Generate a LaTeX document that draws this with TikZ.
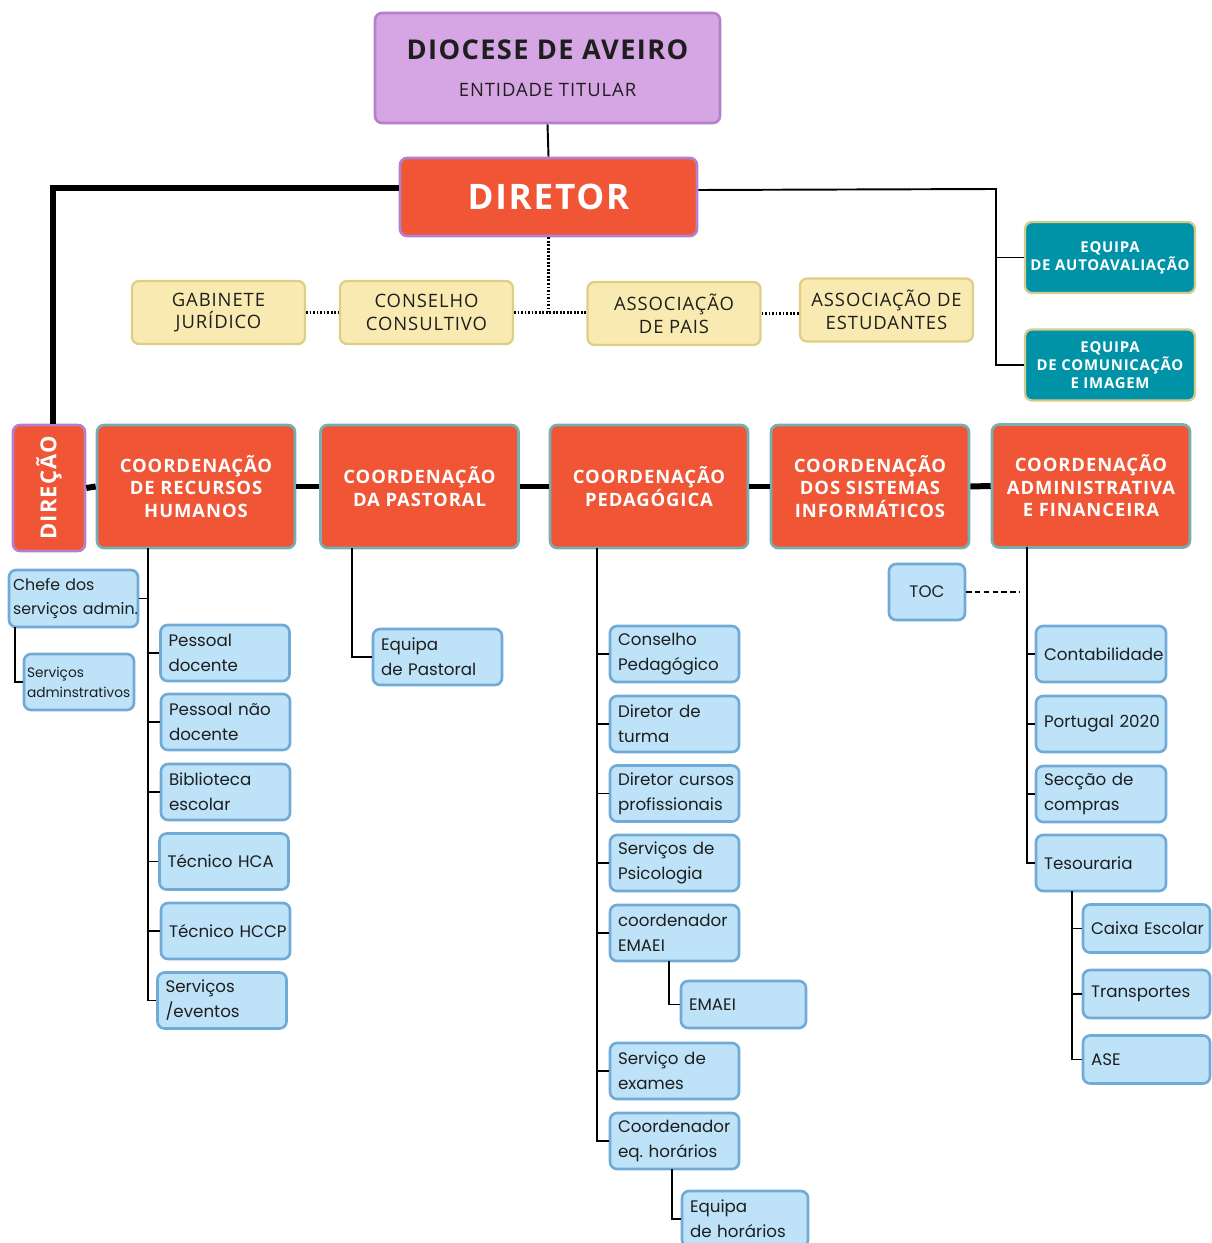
\documentclass[tikz,border=0pt]{standalone}
\usepackage{fontspec}
\usepackage{graphicx}
\newfontfamily\headfont[LetterSpace=5]{Open Sans}
\newfontfamily\boxfont{Poppins}
\lefthyphenmin=62
\definecolor{lilac}{HTML}{D6A5E3}
\definecolor{lilacline}{HTML}{B580CB}
\definecolor{redorange}{HTML}{F05536}
\definecolor{coordline}{HTML}{74B0B2}
\definecolor{sand}{HTML}{F8EAB0}
\definecolor{sandline}{HTML}{DFCF86}
\definecolor{petrol}{HTML}{0093A8}
\definecolor{khaki}{HTML}{D5CB8D}
\definecolor{leaffill}{HTML}{BEE3F8}
\definecolor{leafline}{HTML}{70AAD6}
\definecolor{ink}{HTML}{1E1E1E}

\begin{document}
\begin{tikzpicture}[x=0.02cm, y=-0.02cm,
    sz/.style 2 args={minimum width=#1*0.02cm, minimum height=#2*0.02cm},
    boss/.style={draw=lilacline, line width=1.5pt, rounded corners=4pt, inner sep=0pt, align=center},
    coord/.style={draw=coordline, fill=redorange, line width=1.5pt, rounded corners=4pt, inner sep=0pt,
        align=center, text=white, font=\headfont\bfseries\fontsize{10.5}{12.8}\selectfont},
    council/.style={draw=sandline, fill=sand, line width=1.3pt, rounded corners=4pt, inner sep=0pt,
        align=center, text=ink, font=\headfont\fontsize{10.5}{13}\selectfont},
    team/.style={draw=khaki, fill=petrol, line width=1.3pt, rounded corners=4pt, inner sep=0pt,
        align=center, text=white, font=\headfont\bfseries\fontsize{8.5}{10.2}\selectfont},
    leaf/.style 2 args={draw=leafline, fill=leaffill, line width=1.5pt, rounded corners=4pt,
        inner xsep=0.16cm, inner ysep=0pt, text width=#1*0.02cm-0.32cm, minimum height=#2*0.02cm,
        align=left, text=ink, font=\boxfont\fontsize{9.5}{14.2}\selectfont},
    link/.style={line width=1.1pt},
    bigline/.style={line width=3.4pt},
    dotline/.style={line width=1.2pt, dash pattern=on 1pt off 1pt},
    dashline/.style={line width=0.9pt, dash pattern=on 3pt off 2pt}]

\useasboundingbox (0,0) rectangle (1211,1243);

% top
\node[boss, fill=lilac, text=ink, sz={345}{110}] (diocese) at (547.5,68)
    {{\headfont\bfseries\fontsize{15.5}{18}\selectfont DIOCESE DE AVEIRO}\\[9pt]{\headfont\fontsize{10.5}{12}\selectfont ENTIDADE TITULAR}};
\node[boss, fill=redorange, text=white, sz={297}{78}, font=\headfont\bfseries\fontsize{20}{22}\selectfont] (diretor) at (548.5,197) {DIRETOR};

\node[council, sz={173}{63}] (gab) at (218.5,312.5) {GABINETE\\JURÍDICO};
\node[council, sz={173}{63}] (cons) at (426.5,312.5) {CONSELHO\\CONSULTIVO};
\node[council, sz={173}{63}] (apais) at (674,313.5) {ASSOCIAÇÃO\\DE PAIS};
\node[council, sz={173}{63}] (aest) at (886.5,310) {ASSOCIAÇÃO DE\\ESTUDANTES};

\node[team, sz={170}{71}] (auto) at (1110,257.5) {EQUIPA\\DE AUTOAVALIAÇÃO};
\node[team, sz={170}{71}] (comu) at (1110,365) {EQUIPA\\DE COMUNICAÇÃO\\E IMAGEM};

% coordenacoes
\node[coord, draw=lilacline, sz={72}{126}, font=\headfont\bfseries\fontsize{12.5}{14}\selectfont] (direcao) at (49,488) {\rotatebox{90}{DIREÇÃO}};
\node[coord, sz={198}{123}] (rh) at (196,486.5) {COORDENAÇÃO\\DE RECURSOS\\HUMANOS};
\node[coord, sz={198}{123}] (past) at (419.5,486.5) {COORDENAÇÃO\\DA PASTORAL};
\node[coord, sz={198}{123}] (ped) at (649,486.5) {COORDENAÇÃO\\PEDAGÓGICA};
\node[coord, sz={198}{123}] (sis) at (870,486.5) {COORDENAÇÃO\\DOS SISTEMAS\\INFORMÁTICOS};
\node[coord, sz={198}{123}] (adm) at (1091,486) {COORDENAÇÃO\\ADMINISTRATIVA\\E FINANCEIRA};

% recursos humanos
\foreach \nm/\x/\y/\lbl in {
pd/225/653/{Pessoal\\docente},
pnd/225.5/722/{Pessoal~não\\docente},
bib/225.5/792/{Biblioteca\\escolar},
hca/224/861.5/{Técnico~HCA},
hccp/225.5/931/{Técnico~HCCP}
}
{
    \node[leaf={129}{56}] (\nm) at (\x,\y) {\lbl};
}
\node[leaf={129}{56}] (sev) at (222,1000.5) {Serviços\\/eventos};
\node[leaf={129}{57}, inner xsep=0.08cm, text width=2.42cm, font=\boxfont\fontsize{9}{14.2}\selectfont] (chefe) at (73.5,598.5) {Chefe~dos\\serviços~admin.};
\node[leaf={110}{56}, inner xsep=0.06cm, text width=2.08cm, font=\boxfont\fontsize{7.8}{11.5}\selectfont] (sadm) at (79,682) {Serviços\\adminstrativos};

% pastoral
\node[leaf={129}{56}] (eqp) at (437.5,657) {Equipa\\de~Pastoral};

% pedagogica
\foreach \nm/\y/\lbl in {
cped/654/{Conselho\\Pedagógico},
dt/724/{Diretor~de\\turma},
dcp/793.5/{Diretor~cursos\\profissionais},
psi/863/{Serviços~de\\Psicologia},
cemaei/933/{coordenador\\EMAEI},
exames/1071/{Serviço~de\\exames},
ceh/1141/{Coordenador\\eq.~horários}
}
{
    \node[leaf={129}{56}] (\nm) at (674.5,\y) {\lbl};
}
\node[leaf={125}{47}] (emaei) at (743.5,1004.5) {EMAEI};
\node[leaf={126}{56}] (eh) at (745,1219) {Equipa\\de~horários};

% administrativa
\node[leaf={76}{56}, align=center] (toc) at (927,592) {TOC};
\foreach \nm/\y/\lbl in {
cont/654/{Contabilidade},
p2020/724/{Portugal~2020},
comp/794/{Secção~de\\compras},
tes/863/{Tesouraria}
}
{
    \node[leaf={130}{56}] (\nm) at (1101,\y) {\lbl};
}
\foreach \nm/\y/\lbl in {
caixa/928.5/{Caixa~Escolar},
transp/994/{Transportes},
ase/1059.5/{ASE}
}
{
    \node[leaf={127}{48}] (\nm) at (1146.5,\y) {\lbl};
}

% connectors
\coordinate (rbus) at (996,189);
\coordinate (rhbus) at (148,548);
\coordinate (chbus) at (15,627);
\coordinate (pastbus) at (352,548);
\coordinate (pedbus) at (597,548);
\coordinate (emb) at (669,961);
\coordinate (ehb) at (672,1169);
\coordinate (admbus) at (1027,547);
\coordinate (tesbus) at (1072,891);
\coordinate (tocend) at (1020,592);

\draw[link] (diocese.south) -- (diretor.north);
\draw[bigline] ([yshift=0.18cm]diretor.west) -| ([xshift=0.08cm]direcao.north);
\draw[link] ([yshift=0.14cm]diretor.east) -- (rbus) |- (comu.west);
\draw[link] (auto.west) -- (auto.west -| rbus);

\draw[dotline] (diretor.south) -- (diretor.south |- cons.east);
\draw[dotline] (gab.east) -- (cons.west);
\draw[dotline] (cons.east) -- (cons.east -| apais.west);
\draw[dotline] (apais.east) -- (apais.east -| aest.west);

\draw[bigline] (direcao.east) -- (rh.west);
\draw[bigline] (rh.east) -- (past.west);
\draw[bigline] (past.east) -- (ped.west);
\draw[bigline] (ped.east) -- (sis.west);
\draw[bigline] (sis.east) -- (adm.west);

\draw[link] (rhbus) |- (sev.west);
\foreach \nm in {pd,pnd,bib,hca,hccp}
    \draw[link] (\nm.west) -- (\nm.west -| rhbus);
\draw[link] (chefe.east) -- (chefe.east -| rhbus);
\draw[link] (chbus) |- (sadm.west);

\draw[link] (pastbus) |- (eqp.west);

\draw[link] (pedbus) |- (ceh.west);
\foreach \nm in {cped,dt,dcp,psi,cemaei,exames}
    \draw[link] (\nm.west) -- (\nm.west -| pedbus);
\draw[link] (emb) |- (emaei.west);
\draw[link] (ehb) |- (eh.west);

\draw[link] (admbus) |- (tes.west);
\foreach \nm in {cont,p2020,comp}
    \draw[link] (\nm.west) -- (\nm.west -| admbus);
\draw[dashline] (toc.east) -- (tocend);
\draw[link] (tesbus) |- (ase.west);
\foreach \nm in {caixa,transp}
    \draw[link] (\nm.west) -- (\nm.west -| tesbus);

\end{tikzpicture}
\end{document}
